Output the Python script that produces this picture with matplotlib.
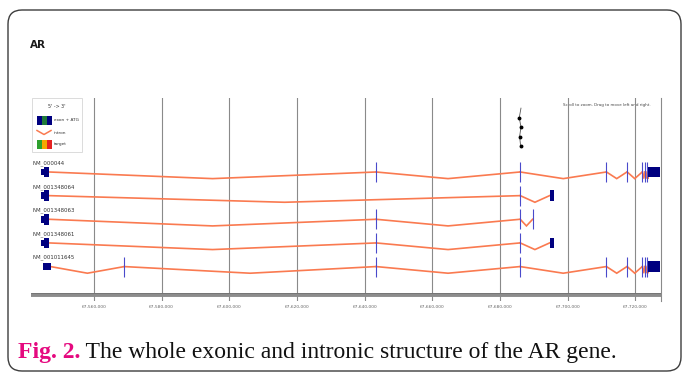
import numpy as np
import matplotlib.pyplot as plt
from matplotlib.patches import Rectangle, FancyBboxPatch

# AR transcripts, exons as (start, end) in bp on chrX
transcripts = ['NM_000044', 'NM_001348064', 'NM_001348063', 'NM_001348061', 'NM_001011645']
exons = [
    [(67544245, 67546790), (67643300, 67643420), (67685870, 67685990), (67711400, 67711480),
     (67717520, 67717600), (67722040, 67722120), (67722840, 67722920), (67723520, 67723600),
     (67723850, 67727300)],
    [(67544245, 67546790), (67685870, 67685990), (67694650, 67695830)],
    [(67544245, 67546790), (67643300, 67643420), (67685870, 67685990), (67689640, 67689720)],
    [(67544245, 67546790), (67643300, 67643420), (67685870, 67685990), (67694650, 67695830)],
    [(67544830, 67547190), (67568920, 67569000), (67643300, 67643420), (67685870, 67685990),
     (67711400, 67711480), (67717520, 67717600), (67722040, 67722120), (67722840, 67722920),
     (67723520, 67723600), (67723850, 67727300)],
]
utr5_end = [67545220, 67545220, 67545220, 67545220, 67547190]

# target marker (stack of dots above exon 3)
target_x = [67686200, 67685700, 67686200, 67685800, 67686100]
target_row = [-2.7, -2.3, -1.9, -1.5, -1.1]

ticks = [67560000, 67580000, 67600000, 67620000, 67640000, 67660000, 67680000, 67700000, 67720000]
view = (67541380, 67727500)

navy = '#000080'
orange = '#fa7a50'
tickblue = '#4a4acb'

W, H = 684, 374
fig = plt.figure(figsize=(W / 100, H / 100), dpi=100)

# background / frame in pixel units
bg = fig.add_axes([0, 0, 1, 1])
bg.set_xlim(0, W)
bg.set_ylim(H, 0)
bg.axis('off')
bg.add_patch(FancyBboxPatch((8, 10), 673, 361, boxstyle='round,pad=0,rounding_size=14',
                            fc='white', ec='#3d3d3d', lw=1.0))
bg.text(30, 45, 'AR', fontsize=7.5, va='center', color='#1a1a1a', family='Liberation Sans Narrow',
        fontweight='bold')
bg.text(563, 105, 'Scroll to zoom. Drag to move left and right.', fontsize=2.9,
        color='#444444', va='center')

# little key box
bg.add_patch(Rectangle((32.3, 98.3), 50, 54, fc='white', ec='#d6d6d6', lw=0.6))
bg.text(57, 106, "5' -> 3'", fontsize=3.4, ha='center', va='center', color='#333333')
bg.add_patch(Rectangle((37, 116), 14.7, 8.5, fc=navy, ec='none'))
bg.add_patch(Rectangle((41.7, 116), 5, 8.5, fc='#1f7a3a', ec='none'))
bg.text(53.5, 120.2, 'exon + ATG', fontsize=3.1, va='center', color='#333333')
bg.plot([37, 44, 51], [130.5, 134.5, 130.5], color=orange, lw=1.1)
bg.text(53.5, 132.5, 'intron', fontsize=3.1, va='center', color='#333333')
for x0, c in zip([37, 41.9, 46.8], ['#2ea02e', '#f5a800', '#e52222']):
    bg.add_patch(Rectangle((x0, 140), 4.9, 8.5, fc=c, ec='none'))
bg.text(53.5, 144.3, 'target', fontsize=3.1, va='center', color='#333333')

# gene track axes: x = genomic position, y = transcript row
ax = fig.add_axes([31 / W, 1 - 301 / H, (660.7 - 31) / W, (301 - 98) / H])
ax.patch.set_visible(False)
ax.set_xlim(*view)
ax.set_ylim(5.455, -3.129)
for s in ['top', 'left', 'bottom']:
    ax.spines[s].set_visible(False)
ax.spines['right'].set_color('#8a8a8a')
ax.spines['right'].set_linewidth(0.8)
ax.set_yticks([])
ax.set_xticks(ticks)
ax.set_xticklabels([f'{t:,}' for t in ticks])
ax.tick_params(axis='x', length=0, pad=3, labelsize=3.2, labelcolor='#666666')
ax.grid(axis='x', color='#8a8a8a', lw=0.8)
ax.set_axisbelow(True)
ax.axhline(5.2, color='#8c8c8c', lw=2.8, zorder=1)
ax.axhline(5.12, color='#6a6a6a', lw=0.5, zorder=1)

dip = 0.28
for r, (name, ex, u5) in enumerate(zip(transcripts, exons, utr5_end)):
    ax.text(view[0] + 500, r - 0.38, name, fontsize=3.9, va='center', color='#333333')
    # introns drawn as shallow V between exons
    for (s0, e0), (s1, e1) in zip(ex[:-1], ex[1:]):
        ax.plot([e0, (e0 + s1) / 2, s1], [r, r + dip, r], color=orange, lw=1.2,
                solid_joinstyle='miter', zorder=2)
    for s, e in ex:
        if e - s > 600:
            if s < u5:
                ax.add_patch(Rectangle((s, r - 0.14), min(u5, e) - s, 0.28, fc=navy, ec='none', zorder=3))
            if e > u5:
                s2 = max(s, u5)
                ax.add_patch(Rectangle((s2, r - 0.23), e - s2, 0.46, fc=navy, ec='none', zorder=3))
        else:
            ax.vlines((s + e) / 2, r - 0.42, r + 0.42, color=tickblue, lw=0.8, zorder=3)

ax.plot(target_x, target_row, color='#555555', lw=0.6, zorder=4)
ax.plot(target_x[1:], target_row[1:], 'o', color='black', ms=1.8, zorder=5)

# caption
t1 = bg.text(18, 358, 'Fig. 2.', fontsize=17, fontweight='bold', color='#e5097f',
             family='Liberation Serif', va='baseline')
bg.annotate(' The whole exonic and intronic structure of the AR gene.', xy=(1, 0),
            xycoords=t1, va='bottom', fontsize=17, color='#111111', family='Liberation Serif')

fig.savefig('out.png', dpi=100)
